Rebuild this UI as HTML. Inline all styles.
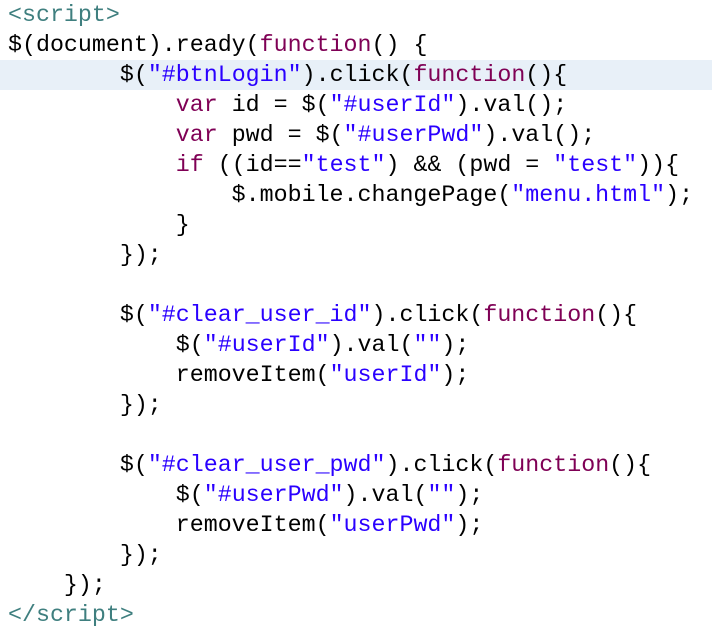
<!DOCTYPE html>
<html><head><style>
html,body{margin:0;padding:0;background:#fff;width:712px;height:640px;overflow:hidden}
pre{margin:0;padding:0 0 0 8px;font-family:"Liberation Mono","DejaVu Sans Mono",monospace;font-size:23.3px;line-height:30px;color:#000}
.l{display:block;height:30px}
.hl{background:#e8f0f8;margin-left:-8px;padding-left:8px}
.t{color:#3f7f7f}.k{color:#7f0055}.s{color:#2a00ff}
</style></head><body><pre><span class="l"><span class="t">&lt;script&gt;</span></span><span class="l">$(document).ready(<span class="k">function</span>() {</span><span class="l hl">        $(<span class="s">"#btnLogin"</span>).click(<span class="k">function</span>(){</span><span class="l">            <span class="k">var</span> id = $(<span class="s">"#userId"</span>).val();</span><span class="l">            <span class="k">var</span> pwd = $(<span class="s">"#userPwd"</span>).val();</span><span class="l">            <span class="k">if</span> ((id==<span class="s">"test"</span>) &amp;&amp; (pwd = <span class="s">"test"</span>)){</span><span class="l">                $.mobile.changePage(<span class="s">"menu.html"</span>);</span><span class="l">            }</span><span class="l">        });</span><span class="l"> </span><span class="l">        $(<span class="s">"#clear_user_id"</span>).click(<span class="k">function</span>(){</span><span class="l">            $(<span class="s">"#userId"</span>).val(<span class="s">""</span>);</span><span class="l">            removeItem(<span class="s">"userId"</span>);</span><span class="l">        });</span><span class="l"> </span><span class="l">        $(<span class="s">"#clear_user_pwd"</span>).click(<span class="k">function</span>(){</span><span class="l">            $(<span class="s">"#userPwd"</span>).val(<span class="s">""</span>);</span><span class="l">            removeItem(<span class="s">"userPwd"</span>);</span><span class="l">        });</span><span class="l">    });</span><span class="l"><span class="t">&lt;/script&gt;</span></span></pre></body></html>
